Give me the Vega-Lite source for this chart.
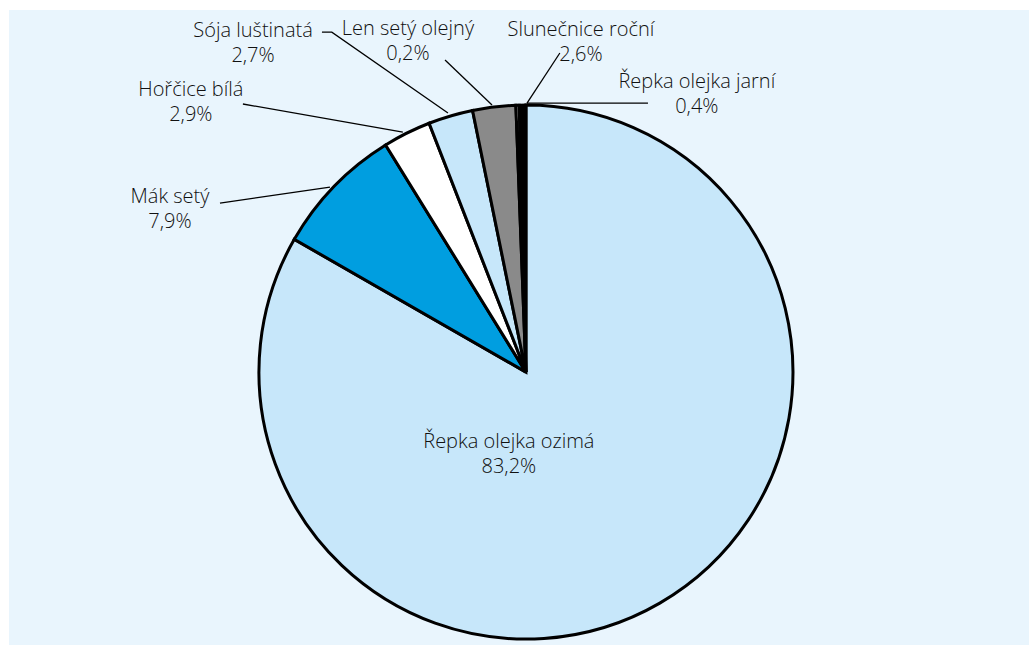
{
  "$schema": "https://vega.github.io/schema/vega-lite/v6.json",
  "width": 1029,
  "height": 645,
  "autosize": {"type": "fit", "contains": "padding"},
  "padding": {"left": 9, "top": 10, "right": 0, "bottom": 0},
  "background": "white",
  "config": {"view": {"fill": "#e9f5fd", "stroke": null}},
  "datasets": {
    "shares": [
      {"crop": "Řepka olejka ozimá", "share": 83.2, "pos": 1},
      {"crop": "Mák setý", "share": 7.9, "pos": 2},
      {"crop": "Hořčice bílá", "share": 2.9, "pos": 3},
      {"crop": "Sója luštinatá", "share": 2.7, "pos": 4},
      {"crop": "Slunečnice roční", "share": 2.6, "pos": 5},
      {"crop": "Len setý olejný", "share": 0.2, "pos": 6},
      {"crop": "Řepka olejka jarní", "share": 0.4, "pos": 7}
    ],
    "labels": [
      {"crop": "Řepka olejka ozimá", "label": "Řepka olejka ozimá\n83,2%", "lx": -6.4, "ly": -30.7},
      {"crop": "Mák setý", "label": "Mák setý\n7,9%", "lx": -133.3, "ly": 61.0},
      {"crop": "Hořčice bílá", "label": "Hořčice bílá\n2,9%", "lx": -125.5, "ly": 101.1},
      {"crop": "Sója luštinatá", "label": "Sója luštinatá\n2,7%", "lx": -102.2, "ly": 123.2},
      {"crop": "Len setý olejný", "label": "Len setý olejný\n0,2%", "lx": -44.2, "ly": 124.0},
      {"crop": "Slunečnice roční", "label": "Slunečnice roční\n2,6%", "lx": 20.6, "ly": 123.6},
      {"crop": "Řepka olejka jarní", "label": "Řepka olejka jarní\n0,4%", "lx": 64.0, "ly": 104.1}
    ],
    "leaders": [
      {"crop": "Mák setý", "i": 1, "lx": -114.6, "ly": 63.3},
      {"crop": "Mák setý", "i": 2, "lx": -73.4, "ly": 69.3},
      {"crop": "Hořčice bílá", "i": 1, "lx": -106.0, "ly": 100.4},
      {"crop": "Hořčice bílá", "i": 2, "lx": -46.1, "ly": 89.9},
      {"crop": "Sója luštinatá", "i": 1, "lx": -76.4, "ly": 127.3},
      {"crop": "Sója luštinatá", "i": 2, "lx": -72.7, "ly": 127.3},
      {"crop": "Sója luštinatá", "i": 3, "lx": -29.2, "ly": 97.0},
      {"crop": "Len setý olejný", "i": 1, "lx": -30.3, "ly": 116.9},
      {"crop": "Len setý olejný", "i": 2, "lx": -12.7, "ly": 100.0},
      {"crop": "Slunečnice roční", "i": 1, "lx": 12.7, "ly": 119.5},
      {"crop": "Slunečnice roční", "i": 2, "lx": 0.4, "ly": 100.7},
      {"crop": "Řepka olejka jarní", "i": 1, "lx": 0.4, "ly": 100.7},
      {"crop": "Řepka olejka jarní", "i": 2, "lx": 45.7, "ly": 100.7}
    ]
  },
  "layer": [
    {
      "data": {"name": "shares"},
      "mark": {"type": "arc", "radius": 267, "stroke": "black", "strokeWidth": 3},
      "encoding": {
        "theta": {"field": "share", "type": "quantitative", "stack": true},
        "order": {"field": "pos", "type": "quantitative"},
        "color": {
          "field": "crop",
          "type": "nominal",
          "scale": {
            "domain": ["Řepka olejka ozimá", "Mák setý", "Hořčice bílá", "Sója luštinatá", "Slunečnice roční", "Len setý olejný", "Řepka olejka jarní"],
            "range": ["#c7e7fa", "#009ee0", "#ffffff", "#c7e7fa", "#8a8a8a", "#ffffff", "#000000"]
          },
          "legend": null
        },
        "x": {"datum": 0, "type": "quantitative", "scale": {"domain": [-193.6, 188.4], "nice": false, "zero": false}, "axis": null},
        "y": {"datum": 0, "type": "quantitative", "scale": {"domain": [-102.2, 135.6], "nice": false, "zero": false}, "axis": null}
      }
    },
    {
      "data": {"name": "leaders"},
      "mark": {"type": "line", "stroke": "black", "strokeWidth": 1.3},
      "encoding": {
        "x": {"field": "lx", "type": "quantitative", "scale": {"domain": [-193.6, 188.4], "nice": false, "zero": false}, "axis": null},
        "y": {"field": "ly", "type": "quantitative", "scale": {"domain": [-102.2, 135.6], "nice": false, "zero": false}, "axis": null},
        "detail": {"field": "crop", "type": "nominal"},
        "order": {"field": "i", "type": "quantitative"}
      }
    },
    {
      "data": {"name": "labels"},
      "mark": {"type": "text", "font": "Open Sans", "fontWeight": 300, "fontSize": 20, "lineBreak": "\n", "lineHeight": 25, "align": "center", "baseline": "middle", "dy": -12, "color": "#111111"},
      "encoding": {
        "x": {"field": "lx", "type": "quantitative", "scale": {"domain": [-193.6, 188.4], "nice": false, "zero": false}, "axis": null},
        "y": {"field": "ly", "type": "quantitative", "scale": {"domain": [-102.2, 135.6], "nice": false, "zero": false}, "axis": null},
        "text": {"field": "label", "type": "nominal"}
      }
    }
  ]
}
